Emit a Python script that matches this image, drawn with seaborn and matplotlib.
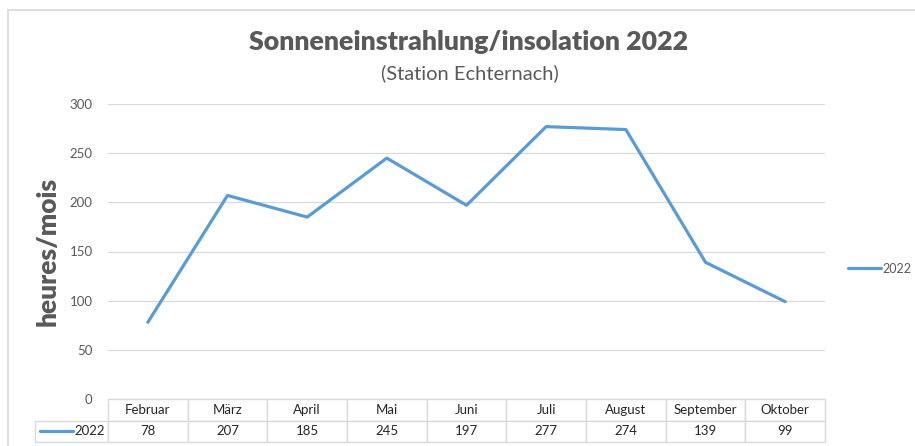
import matplotlib
matplotlib.use("Agg")
import matplotlib.pyplot as plt
from matplotlib.patches import Rectangle
from matplotlib.lines import Line2D
import seaborn as sns
import pandas as pd

# data
monate = ["Februar", "März", "April", "Mai", "Juni", "Juli", "August", "September", "Oktober"]
stunden = [78, 207, 185, 245, 197, 277, 274, 139, 99]
serie = "2022"

df = pd.DataFrame({"Monat": monate, "Stunden": stunden})

sns.set_theme(style="white")
plt.rcParams['font.family'] = ['Lato', 'DejaVu Sans']

grau = "#595959"
blau = "#5B9BD5"
linie = "#d9d9d9"

fig = plt.figure(figsize=(9.15, 4.46), dpi=100)
W, H = 915, 446
ax = fig.add_axes([108 / W, 1 - 399 / H, (825 - 108) / W, (399 - 104) / H])

sns.lineplot(data=df, x="Monat", y="Stunden", ax=ax, color=blau, linewidth=2.3,
             sort=False, label=serie)
ax.set_xlim(-0.5, len(monate) - 0.5)
ax.set_ylim(0, 300)
ax.set_yticks(range(0, 301, 50))
ax.yaxis.grid(True, color=linie, linewidth=0.9)
ax.set_xticks([])
ax.set_xlabel("")
ax.set_ylabel("heures/mois", fontsize=19, fontweight="heavy", color=grau)
ax.yaxis.set_label_coords(-48 / 717, 0.50)
ax.tick_params(axis="y", labelsize=9.5, labelcolor=grau, length=0, pad=11)
for s in ax.spines.values():
    s.set_visible(False)

# Legende rechts
ax.legend(loc="center left", bbox_to_anchor=(1.017, 0.442), frameon=False,
          fontsize=9, labelcolor=grau, handlelength=2.6, handletextpad=0.1)

# Datentabelle unter dem Diagramm
erste = 73
spalte = (825 - 108) / len(monate)
gesamt = erste + spalte * len(monate)
breiten = [erste / gesamt] + [spalte / gesamt] * len(monate)
tab = ax.table(cellText=[[""] + monate, [serie] + [str(v) for v in stunden]],
               colWidths=breiten, cellLoc="center",
               bbox=[-erste / 717, -43 / 295, gesamt / 717, 43 / 295])
tab.auto_set_font_size(False)
tab.set_fontsize(9.5)
for (r, c), zelle in tab.get_celld().items():
    zelle.set_edgecolor(linie)
    zelle.set_linewidth(1.0)
    zelle.get_text().set_color("#262626")
    if r == 0 and c == 0:
        zelle.set_visible(False)
    if r == 1 and c == 0:
        zelle.get_text().set_ha("right")
        zelle._loc = "right"
        zelle.PAD = 0.04

# Legendenschlüssel in der Tabelle
ax.add_line(Line2D([(40 - 108) / 717, (73 - 108) / 717], [-32 / 295, -32 / 295],
                   transform=ax.transAxes, color=blau, linewidth=2.3, clip_on=False))

fig.text(469 / W, 1 - 42 / H, "Sonneneinstrahlung/insolation 2022", ha="center", va="center",
         fontsize=19.3, fontweight="heavy", color=grau)
fig.text(470 / W, 1 - 73 / H, "(Station Echternach)", ha="center", va="center",
         fontsize=14.5, color=grau)

# Rahmen des Diagrammbereichs
fig.patches.append(Rectangle((8 / W, -0.05), 1.1, 1 - 10 / H + 0.05, transform=fig.transFigure,
                             fill=False, edgecolor=linie, linewidth=1.2))

fig.savefig("out.png", dpi=100)
